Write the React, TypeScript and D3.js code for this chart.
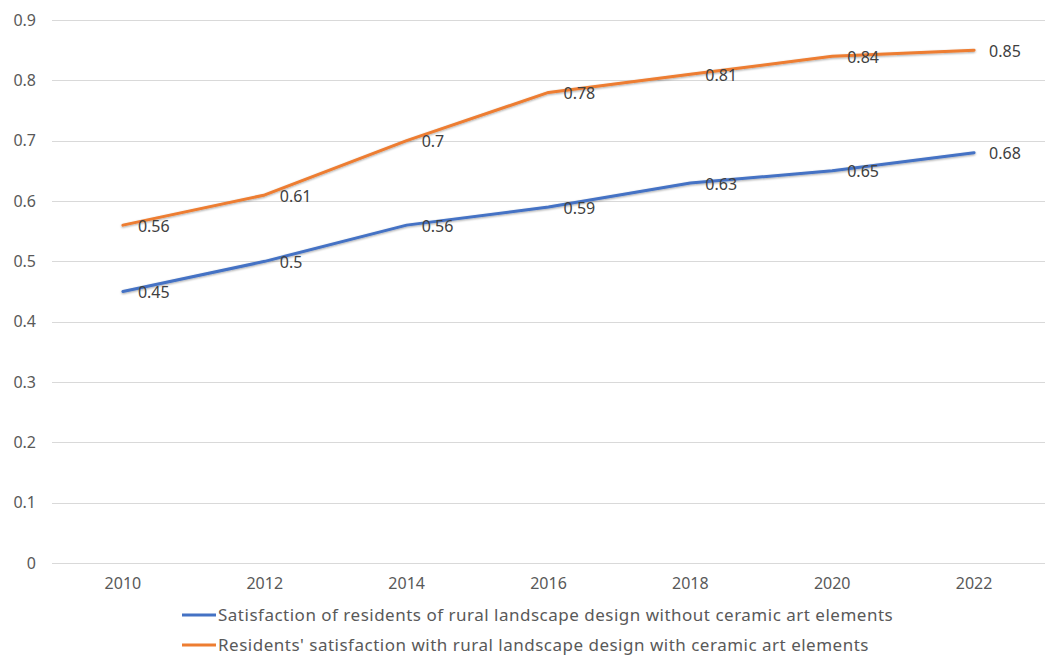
import * as d3 from "d3";
import { useEffect, useRef } from "react";

const years = ["2010", "2012", "2014", "2016", "2018", "2020", "2022"];
const withoutCeramic = [0.45, 0.5, 0.56, 0.59, 0.63, 0.65, 0.68];
const withCeramic = [0.56, 0.61, 0.7, 0.78, 0.81, 0.84, 0.85];
const yTicks = [0, 0.1, 0.2, 0.3, 0.4, 0.5, 0.6, 0.7, 0.8, 0.9];

const series = [
  {
    name: "Satisfaction of residents of rural landscape design without ceramic art elements",
    values: withoutCeramic,
    color: "#4472C4",
  },
  {
    name: "Residents' satisfaction with rural landscape design with ceramic art elements",
    values: withCeramic,
    color: "#ED7D31",
  },
];

const W = 1050;
const H = 655;
const FONT = "'Noto Sans', 'DejaVu Sans', sans-serif";

const App = () => {
  const ref = useRef<SVGSVGElement | null>(null);

  useEffect(() => {
    if (!ref.current) return;
    const svg = d3.select(ref.current);
    svg.selectAll("*").remove();

    const margin = { top: 20, right: 5, bottom: 92, left: 52 };

    const x = d3
      .scaleBand()
      .domain(years)
      .range([margin.left, W - margin.right]);

    const y = d3
      .scaleLinear()
      .domain([0, 0.9])
      .range([H - margin.bottom, margin.top]);

    const defs = svg.append("defs");
    const filter = defs
      .append("filter")
      .attr("id", "shadow")
      .attr("x", "-5%")
      .attr("y", "-20%")
      .attr("width", "110%")
      .attr("height", "140%");
    filter
      .append("feDropShadow")
      .attr("dx", 0)
      .attr("dy", 1)
      .attr("stdDeviation", 0.8)
      .attr("flood-color", "#000")
      .attr("flood-opacity", 0.35);

    // gridlines + y labels
    const yAxis = svg.append("g");
    yAxis
      .selectAll("line")
      .data(yTicks)
      .join("line")
      .attr("x1", margin.left)
      .attr("x2", W - margin.right)
      .attr("y1", (d) => Math.round(y(d)) + 0.5)
      .attr("y2", (d) => Math.round(y(d)) + 0.5)
      .attr("stroke", "#d9d9d9")
      .attr("stroke-width", 1);

    yAxis
      .selectAll("text")
      .data(yTicks)
      .join("text")
      .attr("x", 36)
      .attr("y", (d) => y(d))
      .attr("dy", "0.35em")
      .attr("text-anchor", "end")
      .attr("fill", "#595959")
      .attr("font-family", FONT)
      .attr("font-size", 16)
      .text((d) => String(+d.toFixed(1)));

    // x labels
    svg
      .append("g")
      .selectAll("text")
      .data(years)
      .join("text")
      .attr("x", (d) => x(d)! + x.bandwidth() / 2)
      .attr("y", y(0) + 26)
      .attr("text-anchor", "middle")
      .attr("fill", "#595959")
      .attr("font-family", FONT)
      .attr("font-size", 16)
      .text((d) => d);

    const cx = (i: number) => x(years[i])! + x.bandwidth() / 2;

    const line = d3
      .line<number>()
      .x((_, i) => cx(i))
      .y((d) => y(d));

    series.forEach((s) => {
      svg
        .append("path")
        .datum(s.values)
        .attr("d", line)
        .attr("fill", "none")
        .attr("stroke", s.color)
        .attr("stroke-width", 3)
        .attr("stroke-linecap", "round")
        .attr("stroke-linejoin", "round")
        .attr("filter", "url(#shadow)");
    });

    series.forEach((s) => {
      svg
        .append("g")
        .selectAll("text")
        .data(s.values)
        .join("text")
        .attr("x", (_, i) => cx(i) + 15)
        .attr("y", (d) => y(d) + 1)
        .attr("dy", "0.35em")
        .attr("fill", "#404040")
        .attr("font-family", FONT)
        .attr("font-size", 16)
        .text((d) => String(d));
    });

    // legend
    const legend = svg.append("g");
    series.forEach((s, i) => {
      const ly = 615 + i * 30;
      legend
        .append("line")
        .attr("x1", 182)
        .attr("x2", 216)
        .attr("y1", ly)
        .attr("y2", ly)
        .attr("stroke", s.color)
        .attr("stroke-width", 3);
      legend
        .append("text")
        .attr("x", 218)
        .attr("y", ly)
        .attr("dy", "0.35em")
        .attr("fill", "#595959")
        .attr("font-family", FONT)
        .attr("font-size", 17)
        .attr("letter-spacing", 0.5)
        .text(s.name);
    });
  }, []);

  return (
    <svg
      ref={ref}
      width={W}
      height={H}
      style={{ position: "absolute", left: 0, top: 0, display: "block", background: "#fff" }}
    />
  );
};

export default App;
